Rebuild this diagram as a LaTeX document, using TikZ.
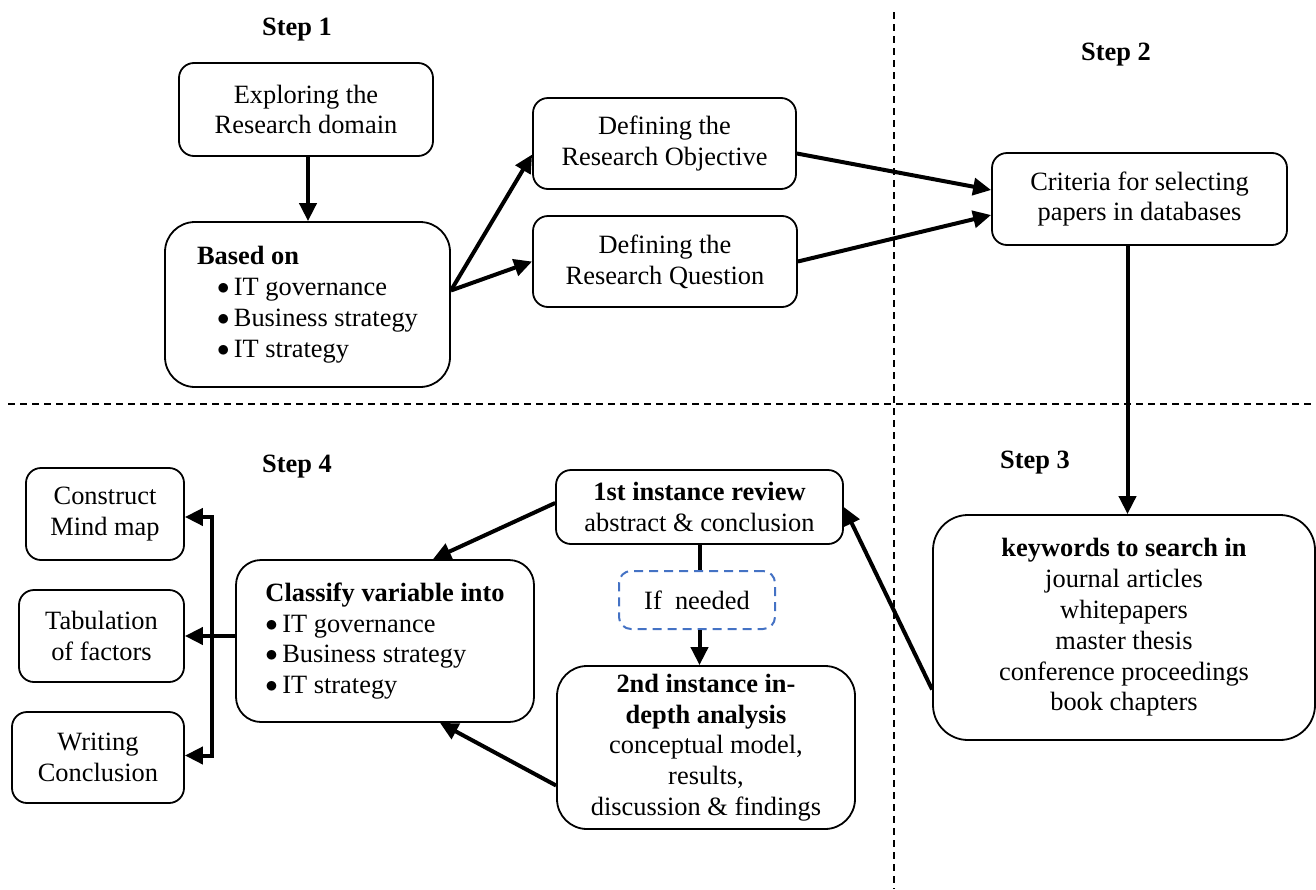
\documentclass[tikz,border=0pt]{standalone}
\usepackage{fontspec}
\setmainfont{Liberation Serif}
\usetikzlibrary{arrows.meta}
\definecolor{dashblue}{HTML}{4472C4}
\newcommand{\bul}{\raisebox{1pt}{$\bullet$}}
\begin{document}
\begin{tikzpicture}[x=1pt,y=-1pt,
  txt/.style={font=\fontsize{26.4}{30.8}\selectfont},
  box/.style={txt, draw, line width=1.8pt, rounded corners=15pt, align=center, inner sep=0pt},
  bigbox/.style={box, rounded corners=30pt},
  arr/.style={line width=4pt, -{Triangle[length=18pt,width=17pt]}},
  plain/.style={line width=4pt},
  sep/.style={line width=1.7pt, dash pattern=on 7pt off 5pt},
  steplabel/.style={txt, font=\fontsize{26.4}{30.8}\selectfont\bfseries}]
\useasboundingbox (0,0) rectangle (1316,889);

% separators
\draw[sep] (8,404) -- (1316,404);
\draw[sep] (894,12) -- (894,889);

% step labels
\node[steplabel] (s1) at (297,30) {Step 1};
\node[steplabel] (s2) at (1116,55) {Step 2};
\node[steplabel] (s3) at (1035,463) {Step 3};
\node[steplabel] (s4) at (297,467) {Step 4};

% boxes
\node[box, minimum width=254pt, minimum height=93pt] (exp) at (306,109.5) {Exploring the\\Research domain};
\node[bigbox, minimum width=285pt, minimum height=165pt, align=left] (based) at (307.5,304.5)
  {\textbf{Based on}\\\hspace*{20pt}\bul\,IT governance\\\hspace*{20pt}\bul\,Business strategy\\\hspace*{20pt}\bul\,IT strategy};
\node[box, minimum width=263pt, minimum height=91pt] (obj) at (664.5,143.5) {Defining the\\Research Objective};
\node[box, minimum width=264pt, minimum height=91pt] (q) at (665,261.5) {Defining the\\Research Question};
\node[box, minimum width=295pt, minimum height=92pt] (crit) at (1139.5,199) {Criteria for selecting\\papers in databases};
\node[box, rounded corners=35pt, minimum width=382pt, minimum height=225pt] (kw) at (1124,627.5)
  {\textbf{keywords to search in}\\journal articles\\whitepapers\\master thesis\\conference proceedings\\book chapters};
\node[box, minimum width=287pt, minimum height=74pt] (r1) at (699.5,507) {\textbf{1st instance review}\\abstract \& conclusion};
\node[box, draw=dashblue, dash pattern=on 9pt off 6pt, line width=2pt, rounded corners=12pt, minimum width=156pt, minimum height=58pt] (ifn) at (697,600) {If\ \ needed};
\node[bigbox, minimum width=298pt, minimum height=163pt] (r2) at (706,747.5)
  {\textbf{2nd instance in-}\\\textbf{depth analysis}\\conceptual model,\\results,\\discussion \& findings};
\node[box, rounded corners=25pt, minimum width=298pt, minimum height=162pt, align=left] (cls) at (385,641)
  {\textbf{Classify variable into}\\\bul\,IT governance\\\bul\,Business strategy\\\bul\,IT strategy};
\node[box, minimum width=158pt, minimum height=92pt] (con) at (105,514) {Construct\\Mind map};
\node[box, minimum width=165pt, minimum height=92pt] (tab) at (101.5,636) {Tabulation\\of factors};
\node[box, minimum width=172pt, minimum height=91pt] (wri) at (98,757.5) {Writing\\Conclusion};

% connectors
\draw[arr] ([xshift=2pt]exp.south) -- ([xshift=2pt]exp.south |- based.north);
\draw[arr] ([yshift=14pt]based.east) -- ([yshift=-11pt]obj.west);
\draw[arr] ([yshift=14pt]based.east) -- (q.west);
\draw[arr] ([yshift=-10pt]obj.east) -- ([yshift=9pt]crit.west);
\draw[arr] (q.east) -- ([yshift=-16pt]crit.west);
\draw[arr] ([xshift=-12pt]crit.south) -- ([xshift=-12pt]crit.south |- kw.north);
\draw[arr] ([yshift=-62pt]kw.west) -- (r1.east);
\draw[arr] ([yshift=4pt]r1.west) -- ([xshift=48pt]cls.north);
\draw[arr] ([yshift=-38pt]r2.west) -- ([xshift=55pt]cls.south);
\draw[plain] (r1.south) -- (r1.south |- ifn.north);
\draw[arr] (r1.south |- ifn.south) -- (r1.south |- r2.north);

\coordinate (jn) at (212,636);
\draw[arr] (cls.west |- jn) -- (tab.east |- jn);
\draw[arr] (jn) |- ([yshift=-3pt]con.east);
\draw[arr] (jn) |- ([yshift=2pt]wri.east);
\end{tikzpicture}
\end{document}
